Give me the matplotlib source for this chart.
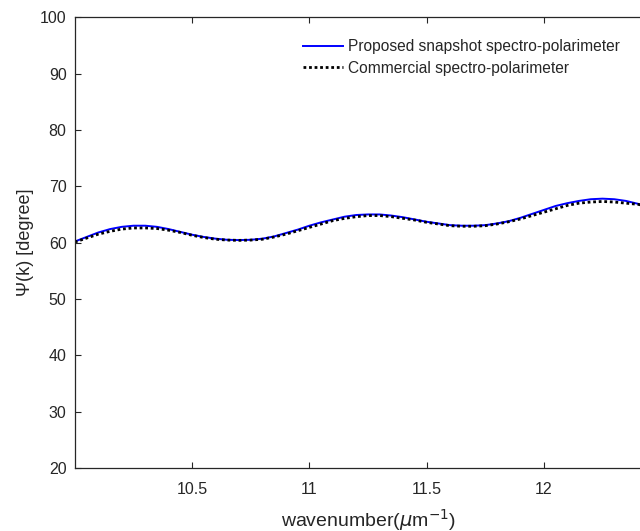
import matplotlib
matplotlib.use('Agg')
import matplotlib.pyplot as plt

# wavenumber (um^-1)
wavenumber = [10.00, 10.05, 10.10, 10.15, 10.20, 10.25, 10.30, 10.35, 10.40, 10.45,
              10.50, 10.55, 10.60, 10.65, 10.70, 10.75, 10.80, 10.85, 10.90, 10.95,
              11.00, 11.05, 11.10, 11.15, 11.20, 11.25, 11.30, 11.35, 11.40, 11.45,
              11.50, 11.55, 11.60, 11.65, 11.70, 11.75, 11.80, 11.85, 11.90, 11.95,
              12.00, 12.05, 12.10, 12.15, 12.20, 12.25, 12.30, 12.35, 12.40, 12.45]

# Psi(k) in degrees, proposed snapshot instrument
psi_proposed = [60.2, 61.0, 61.8, 62.4, 62.8, 63.0, 63.0, 62.8, 62.4, 61.9,
                61.4, 61.0, 60.7, 60.5, 60.45, 60.5, 60.7, 61.1, 61.7, 62.3,
                63.0, 63.6, 64.1, 64.6, 64.9, 65.0, 65.0, 64.8, 64.5, 64.1,
                63.7, 63.4, 63.1, 63.0, 63.0, 63.1, 63.4, 63.8, 64.4, 65.1,
                65.8, 66.5, 67.0, 67.4, 67.7, 67.8, 67.7, 67.4, 66.9, 66.4]

# Psi(k) in degrees, commercial instrument
psi_commercial = [60.1, 60.8, 61.5, 62.0, 62.4, 62.6, 62.6, 62.5, 62.2, 61.8,
                  61.3, 60.9, 60.6, 60.45, 60.4, 60.45, 60.6, 61.0, 61.5, 62.1,
                  62.7, 63.3, 63.9, 64.3, 64.6, 64.8, 64.8, 64.6, 64.3, 64.0,
                  63.6, 63.3, 63.0, 62.9, 62.9, 63.0, 63.3, 63.7, 64.2, 64.8,
                  65.4, 66.0, 66.6, 67.0, 67.2, 67.3, 67.2, 67.0, 66.8, 66.4]

plt.rcParams['font.family'] = ['Liberation Sans', 'DejaVu Sans']
text_col = '#262626'

fig = plt.figure(figsize=(6.4, 5.31), dpi=100)
# axes runs off the right edge, like the cropped original
ax = fig.add_axes([0.117, 0.1186, 0.916, 0.849])

ax.plot(wavenumber, psi_proposed, color='#0000ff', lw=1.4,
        label='Proposed snapshot spectro-polarimeter')
ax.plot(wavenumber, psi_commercial, color='black', lw=2.0, ls=(0, (1, 1)),
        label='Commercial spectro-polarimeter')

ax.set_xlim(10.0, 12.5)
ax.set_ylim(20, 100)
ax.set_xticks([10.5, 11, 11.5, 12])
ax.set_xticklabels(['10.5', '11', '11.5', '12'])
ax.set_yticks(range(20, 101, 10))

ax.tick_params(direction='in', length=4, width=0.8, colors=text_col,
               labelsize=11.5, top=True, right=False)
ax.tick_params(axis='x', pad=10)
ax.tick_params(axis='y', pad=6)
for s in ax.spines.values():
    s.set_color(text_col)
    s.set_linewidth(0.9)

ax.set_xlabel('wavenumber($\\mu$m$^{-1}$)', fontsize=14, color=text_col, labelpad=7)
ax.set_ylabel('Ψ(k) [degree]', fontsize=13, color=text_col, labelpad=4)

leg = ax.legend(loc='upper left', bbox_to_anchor=(0.389, 0.951), frameon=False,
                fontsize=11.2, handlelength=2.6, handletextpad=0.3,
                labelspacing=0.4, borderaxespad=0, borderpad=0)
for t in leg.get_texts():
    t.set_color(text_col)

fig.savefig('out.png', dpi=100)
